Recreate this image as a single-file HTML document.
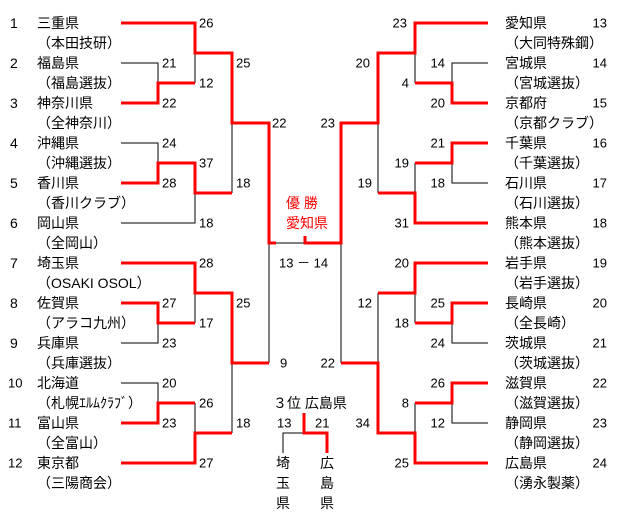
<!DOCTYPE html>
<html><head><meta charset="utf-8"><style>
html,body{margin:0;padding:0;background:#fff;}
svg text{font-family:"Liberation Sans","Noto Sans CJK JP",sans-serif;font-size:14px;fill:#000;dominant-baseline:central;}
.n{font-size:13px;}
.r{fill:#f00;}
</style></head><body>
<svg width="625" height="523" viewBox="0 0 625 523" xmlns="http://www.w3.org/2000/svg">
<g stroke="#000" stroke-width="1" fill="none">
<!-- left black -->
<polyline points="121,63 158,63 158,83"/>
<polyline points="195,53 195,83"/>
<polyline points="232,123 232,193"/>
<polyline points="121,143 158,143 158,163"/>
<polyline points="121,223 195,223 195,193"/>
<polyline points="269,243 269,363"/>
<polyline points="276,243 305,243"/>
<polyline points="195,293 195,323"/>
<polyline points="121,343 158,343 158,323"/>
<polyline points="232,363 232,433"/>
<polyline points="121,383 158,383 158,403"/>
<polyline points="195,403 195,433"/>
<!-- right black -->
<polyline points="488,63 452,63 452,83"/>
<polyline points="415,53 415,83"/>
<polyline points="378,123 378,193"/>
<polyline points="488,183 452,183 452,163"/>
<polyline points="415,163 415,193"/>
<polyline points="341,243 341,363"/>
<polyline points="415,293 415,323"/>
<polyline points="488,343 452,343 452,323"/>
<polyline points="378,293 378,363"/>
<polyline points="488,423 452,423 452,403"/>
<polyline points="415,403 415,433"/>
<!-- 3rd -->
<polyline points="304,433 283,433 283,453"/>
</g>
<g stroke="#f00" stroke-width="3" fill="none" stroke-linejoin="miter">
<polyline points="121,23 195,23 195,53 232,53 232,123 269,123 269,243 276,243"/>
<polyline points="121,103 158,103 158,83 195,83"/>
<polyline points="121,183 158,183 158,163 195,163 195,193 232,193"/>
<polyline points="121,263 195,263 195,293 232,293 232,363 269,363"/>
<polyline points="121,303 158,303 158,323 195,323"/>
<polyline points="121,423 158,423 158,403 195,403"/>
<polyline points="121,463 195,463 195,433 232,433"/>
<polyline points="305,236 305,243 341,243 341,123 378,123 378,53 415,53 415,23 488,23"/>
<polyline points="488,103 452,103 452,83 415,83"/>
<polyline points="488,143 452,143 452,163 415,163"/>
<polyline points="378,193 415,193 415,223 488,223"/>
<polyline points="488,263 415,263 415,293 378,293"/>
<polyline points="488,303 452,303 452,323 415,323"/>
<polyline points="341,363 378,363 378,433 415,433 415,463 488,463"/>
<polyline points="488,383 452,383 452,403 415,403"/>
<polyline points="304,413 304,433 327,433 327,453"/>
</g>
<!-- left teams -->
<g>
<text x="10" y="23">1</text><text x="37" y="23">三重県</text><text x="37" y="43">（本田技研）</text>
<text x="10" y="63">2</text><text x="37" y="63">福島県</text><text x="37" y="83">（福島選抜）</text>
<text x="10" y="103">3</text><text x="37" y="103">神奈川県</text><text x="37" y="123">（全神奈川）</text>
<text x="10" y="143">4</text><text x="37" y="143">沖縄県</text><text x="37" y="163">（沖縄選抜）</text>
<text x="10" y="183">5</text><text x="37" y="183">香川県</text><text x="37" y="203">（香川クラブ）</text>
<text x="10" y="223">6</text><text x="37" y="223">岡山県</text><text x="37" y="243">（全岡山）</text>
<text x="10" y="263">7</text><text x="37" y="263">埼玉県</text><text x="37" y="283">（OSAKI OSOL）</text>
<text x="10" y="303">8</text><text x="37" y="303">佐賀県</text><text x="37" y="323">（アラコ九州）</text>
<text x="10" y="343">9</text><text x="37" y="343">兵庫県</text><text x="37" y="363">（兵庫選抜）</text>
<text x="8" y="383" class="n">10</text><text x="37" y="383">北海道</text><text x="37" y="403">（札幌ｴﾙﾑｸﾗﾌﾞ）</text>
<text x="8" y="423" class="n">11</text><text x="37" y="423">富山県</text><text x="37" y="443">（全富山）</text>
<text x="8" y="463" class="n">12</text><text x="37" y="463">東京都</text><text x="37" y="483">（三陽商会）</text>
</g>
<!-- right teams -->
<g>
<text x="505" y="23">愛知県</text><text x="505" y="43">（大同特殊鋼）</text>
<text x="505" y="63">宮城県</text><text x="505" y="83">（宮城選抜）</text>
<text x="505" y="103">京都府</text><text x="505" y="123">（京都クラブ）</text>
<text x="505" y="143">千葉県</text><text x="505" y="163">（千葉選抜）</text>
<text x="505" y="183">石川県</text><text x="505" y="203">（石川選抜）</text>
<text x="505" y="223">熊本県</text><text x="505" y="243">（熊本選抜）</text>
<text x="505" y="263">岩手県</text><text x="505" y="283">（岩手選抜）</text>
<text x="505" y="303">長崎県</text><text x="505" y="323">（全長崎）</text>
<text x="505" y="343">茨城県</text><text x="505" y="363">（茨城選抜）</text>
<text x="505" y="383">滋賀県</text><text x="505" y="403">（滋賀選抜）</text>
<text x="505" y="423">静岡県</text><text x="505" y="443">（静岡選抜）</text>
<text x="505" y="463">広島県</text><text x="505" y="483">（湧永製薬）</text>
</g>
<g class="n" text-anchor="end">
<text class="n" x="607" y="23">13</text><text class="n" x="607" y="63">14</text><text class="n" x="607" y="103">15</text>
<text class="n" x="607" y="143">16</text><text class="n" x="607" y="183">17</text><text class="n" x="607" y="223">18</text>
<text class="n" x="607" y="263">19</text><text class="n" x="607" y="303">20</text><text class="n" x="607" y="343">21</text>
<text class="n" x="607" y="383">22</text><text class="n" x="607" y="423">23</text><text class="n" x="607" y="463">24</text>
</g>
<!-- left scores -->
<g>
<text class="n" x="199" y="23">26</text><text class="n" x="162" y="63">21</text><text class="n" x="199" y="83">12</text>
<text class="n" x="162" y="103">22</text><text class="n" x="236" y="63">25</text><text class="n" x="272" y="123">22</text>
<text class="n" x="162" y="143">24</text><text class="n" x="199" y="163">37</text><text class="n" x="162" y="183">28</text>
<text class="n" x="236" y="183">18</text><text class="n" x="199" y="223">18</text>
<text class="n" x="199" y="263">28</text><text class="n" x="162" y="303">27</text><text class="n" x="199" y="323">17</text>
<text class="n" x="162" y="343">23</text><text class="n" x="236" y="303">25</text><text class="n" x="280" y="363">9</text>
<text class="n" x="162" y="383">20</text><text class="n" x="199" y="403">26</text><text class="n" x="162" y="423">23</text>
<text class="n" x="236" y="423">18</text><text class="n" x="199" y="463">27</text>
</g>
<!-- right scores -->
<g text-anchor="end">
<text class="n" x="407" y="23">23</text><text class="n" x="370" y="63">20</text><text class="n" x="445" y="63">14</text>
<text class="n" x="409" y="83">4</text><text class="n" x="445" y="103">20</text><text class="n" x="335" y="123">23</text>
<text class="n" x="445" y="143">21</text><text class="n" x="409" y="163">19</text><text class="n" x="445" y="183">18</text>
<text class="n" x="372" y="183">19</text><text class="n" x="409" y="223">31</text>
<text class="n" x="409" y="263">20</text><text class="n" x="372" y="303">12</text><text class="n" x="445" y="303">25</text>
<text class="n" x="409" y="323">18</text><text class="n" x="445" y="343">24</text><text class="n" x="335" y="363">22</text>
<text class="n" x="445" y="383">26</text><text class="n" x="409" y="403">8</text><text class="n" x="370" y="423">34</text>
<text class="n" x="445" y="423">12</text><text class="n" x="409" y="463">25</text>
</g>
<!-- center -->
<text class="r" x="286" y="203">優 勝</text>
<text class="r" x="286" y="223">愛知県</text>
<text class="n" x="279" y="263">13 － 14</text>
<text x="273" y="403">３位 広島県</text>
<text class="n" x="277" y="423">13</text>
<text class="n" x="315" y="423">21</text>
<text x="276" y="463">埼</text><text x="276" y="483">玉</text><text x="276" y="503">県</text>
<text x="320" y="463">広</text><text x="320" y="483">島</text><text x="320" y="503">県</text>
</svg>
</body></html>
